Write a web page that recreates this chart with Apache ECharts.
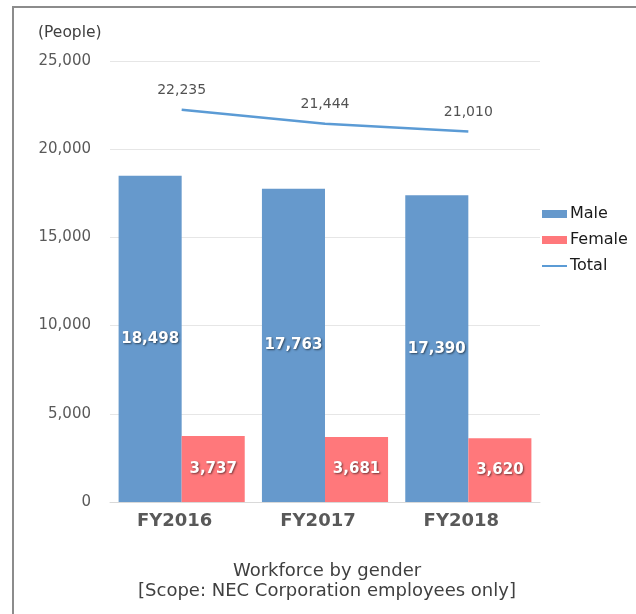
<!DOCTYPE html>
<html>
<head>
<meta charset="utf-8">
<script src="https://cdn.jsdelivr.net/npm/echarts@6/dist/echarts.min.js"></script>
<style>
html,body{margin:0;padding:0;background:#fff;}
#c{width:636px;height:614px;}
</style>
</head>
<body>
<div id="c"></div>
<script>
var categories = ['FY2016', 'FY2017', 'FY2018'];
var maleValues = [18498, 17763, 17390];
var femaleValues = [3737, 3681, 3620];
var totalValues = [22235, 21444, 21010];
var yTicks = [0, 5000, 10000, 15000, 20000, 25000];

var FONT = '"DejaVu Sans", Verdana, sans-serif';
var chart = echarts.init(document.getElementById('c'), null, {renderer: 'canvas'});
function fmt(v){ return v.toString().replace(/\B(?=(\d{3})+(?!\d))/g, ','); }
var barLabel = {
  show: true, position: 'inside', color: '#fff', fontFamily: FONT, fontWeight: 'bold', fontSize: 15,
  textShadowColor: 'rgba(0,0,0,0.55)', textShadowBlur: 2, textShadowOffsetX: 1, textShadowOffsetY: 1,
  formatter: function(p){ return fmt(p.value); }
};
chart.setOption({
  animation: false,
  backgroundColor: '#fff',
  grid: {left: 110, right: 96, top: 61, bottom: 112},
  legend: {
    orient: 'vertical', left: 536, top: 201, itemWidth: 25, itemHeight: 8, itemGap: 10,
    textStyle: {fontFamily: FONT, fontSize: 16, color: '#1a1a1a', padding: [0,0,0,-2]},
    data: [{name: 'Male', icon: 'rect'}, {name: 'Female', icon: 'rect'}, {name: 'Total', itemStyle: {opacity: 0}}]
  },
  xAxis: {
    type: 'category', data: categories,
    axisLine: {show: true, lineStyle: {color: '#d9d9d9', width: 1}},
    axisTick: {show: false},
    axisLabel: {fontFamily: FONT, fontSize: 18, fontWeight: 'bold', color: '#595959', margin: 10, padding: [0, 14, 0, 0]}
  },
  yAxis: {
    type: 'value', min: yTicks[0], max: yTicks[yTicks.length-1], interval: 5000,
    axisLine: {show: false}, axisTick: {show: false},
    splitLine: {lineStyle: {color: '#e6e6e6', width: 1}},
    axisLabel: {fontFamily: FONT, fontSize: 15, color: '#595959', margin: 19, formatter: function(v){ return fmt(v); }}
  },
  series: [
    {name: 'Male', type: 'bar', data: maleValues, barGap: '0%', barCategoryGap: '12%',
     itemStyle: {color: '#6699cc'}, label: barLabel},
    {name: 'Female', type: 'bar', data: femaleValues,
     itemStyle: {color: '#ff787b'}, label: barLabel},
    {name: 'Total', type: 'line', data: totalValues, symbol: 'none', showSymbol: false,
     lineStyle: {color: '#5b9bd5', width: 2.5}, itemStyle: {color: '#5b9bd5'}},
    {name: 'TotalLabels', type: 'scatter', data: totalValues, symbolSize: 1, itemStyle: {color: 'rgba(0,0,0,0)'},
     silent: true,
     label: {show: true, position: 'top', distance: 12, fontFamily: FONT, fontSize: 14, color: '#262626',
       formatter: function(p){ return fmt(p.value); }}}
  ],
  graphic: [
    {type: 'rect', shape: {x: 13, y: 7, width: 640, height: 640}, style: {fill: 'none', stroke: '#8c8c8c', lineWidth: 2}, silent: true},
    {type: 'text', left: 38, top: 25, style: {text: '(People)', fontFamily: FONT, fontSize: 15.5, fill: '#404040'}},
    {type: 'text', x: 327, y: 571, style: {text: 'Workforce by gender', fontFamily: FONT, fontSize: 18, fill: '#404040', align: 'center', verticalAlign: 'middle'}},
    {type: 'text', x: 327, y: 591, style: {text: '[Scope: NEC Corporation employees only]', fontFamily: FONT, fontSize: 18, fill: '#404040', align: 'center', verticalAlign: 'middle'}}
  ]
});
</script>
</body>
</html>
